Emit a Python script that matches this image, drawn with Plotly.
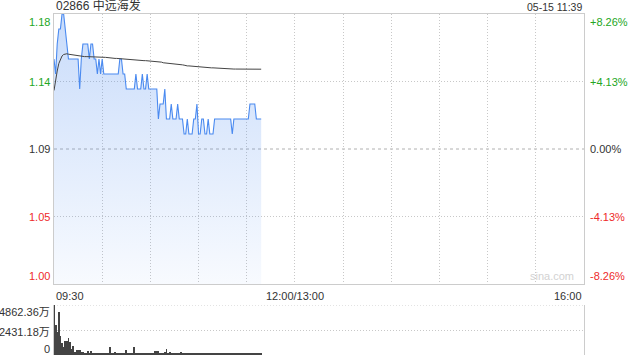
import pandas as pd
import plotly.graph_objects as go

# ---------------- data ----------------
title_text = "02866 中远海发"
stamp_text = "05-15 11:39"
prev_close = 1.09

times = list(pd.date_range("2024-05-15 09:30", periods=130, freq="min").strftime("%H:%M"))

prices = [
    1.15, 1.14, 1.16, 1.17, 1.17, 1.18, 1.18, 1.17, 1.16, 1.15,
    1.15, 1.15, 1.15, 1.15, 1.15, 1.15, 1.13, 1.15, 1.16, 1.16,
    1.16, 1.16, 1.15, 1.16, 1.16, 1.15, 1.15, 1.14, 1.15, 1.14,
    1.15, 1.14, 1.14, 1.14, 1.14, 1.14, 1.14, 1.14, 1.14, 1.14,
    1.14, 1.15, 1.15, 1.14, 1.14, 1.13, 1.13, 1.13, 1.13, 1.13,
    1.13, 1.14, 1.13, 1.13, 1.13, 1.14, 1.13, 1.13, 1.14, 1.13,
    1.13, 1.13, 1.13, 1.13, 1.13, 1.11, 1.12, 1.12, 1.12, 1.13,
    1.11, 1.11, 1.11, 1.12, 1.11, 1.11, 1.11, 1.12, 1.11, 1.11,
    1.11, 1.10, 1.10, 1.11, 1.10, 1.10, 1.10, 1.11, 1.11, 1.12,
    1.10, 1.10, 1.11, 1.11, 1.10, 1.10, 1.11, 1.10, 1.10, 1.10,
    1.11, 1.11, 1.11, 1.11, 1.11, 1.11, 1.11, 1.11, 1.11, 1.11,
    1.11, 1.10, 1.11, 1.11, 1.11, 1.11, 1.11, 1.11, 1.11, 1.11,
    1.11, 1.11, 1.12, 1.12, 1.12, 1.12, 1.11, 1.11, 1.11, 1.11,
]

avg_prices = [
    1.1290, 1.1370, 1.1420, 1.1470, 1.1500, 1.1520, 1.1530, 1.1535, 1.1535, 1.1532,
    1.1530, 1.1528, 1.1526, 1.1524, 1.1522, 1.1520, 1.1518, 1.1517, 1.1516, 1.1516,
    1.1516, 1.1516, 1.1515, 1.1515, 1.1515, 1.1515, 1.1514, 1.1514, 1.1514, 1.1513,
    1.1513, 1.1512, 1.1511, 1.1510, 1.1508, 1.1506, 1.1505, 1.1505, 1.1504, 1.1504,
    1.1503, 1.1503, 1.1502, 1.1501, 1.1500, 1.1497, 1.1495, 1.1494, 1.1493, 1.1492,
    1.1492, 1.1491, 1.1491, 1.1490, 1.1490, 1.1490, 1.1489, 1.1489, 1.1488, 1.1488,
    1.1488, 1.1487, 1.1487, 1.1486, 1.1485, 1.1484, 1.1482, 1.1479, 1.1475, 1.1474,
    1.1474, 1.1473, 1.1473, 1.1472, 1.1471, 1.1470, 1.1468, 1.1464, 1.1463, 1.1462,
    1.1461, 1.1459, 1.1455, 1.1454, 1.1454, 1.1453, 1.1452, 1.1452, 1.1451, 1.1450,
    1.1445, 1.1443, 1.1443, 1.1443, 1.1442, 1.1442, 1.1442, 1.1441, 1.1441, 1.1441,
    1.1440, 1.1440, 1.1440, 1.1439, 1.1439, 1.1438, 1.1437, 1.1435, 1.1434, 1.1434,
    1.1434, 1.1434, 1.1433, 1.1433, 1.1433, 1.1433, 1.1433, 1.1432, 1.1432, 1.1432,
    1.1432, 1.1432, 1.1433, 1.1433, 1.1433, 1.1433, 1.1433, 1.1432, 1.1432, 1.1432,
]

volumes = [  # 万股
    4862.36, 2900, 2270, 4210, 1850, 1200, 810, 1390, 1390, 1620,
    1300, 580, 875, 320, 450, 450, 450, 320, 250, 160,
    160, 400, 160, 400, 150, 120, 180, 130, 150, 200,
    120, 150, 130, 180, 130, 810, 150, 120, 250, 130,
    160, 150, 120, 130, 180, 450, 150, 130, 120, 160,
    810, 150, 120, 130, 200, 150, 120, 180, 130, 100,
    120, 150, 130, 400, 400, 380, 150, 230, 180, 260,
    550, 230, 260, 200, 230, 150, 200, 180, 150, 320,
    150, 200, 120, 180, 150, 130, 200, 120, 150, 130,
    180, 130, 220, 120, 110, 130, 100, 120, 110, 100,
    120, 100, 110, 130, 100, 110, 100, 120, 100, 110,
    100, 130, 110, 100, 120, 100, 110, 100, 120, 110,
    100, 110, 130, 100, 110, 100, 120, 100, 110, 100,
]

price_ticks = [1.00, 1.045, 1.09, 1.135, 1.18]
price_labels = ["1.00", "1.05", "1.09", "1.14", "1.18"]
pct_labels = ["-8.26%", "-4.13%", "0.00%", "+4.13%", "+8.26%"]
vol_ticks = [0, 2431.18, 4862.36]
vol_labels = ["0", "2431.18万", "4862.36万"]
grid_times = ["10:00", "10:30", "11:00", "11:30", "12:00", "13:30", "14:00", "14:30", "15:00", "15:30"]
axis_time_labels = ["09:30", "12:00/13:00", "16:00"]

# ---------------- scale helpers ----------------
def trade_minute(hhmm):
    h, m = map(int, hhmm.split(":"))
    t = h * 60 + m
    if t <= 12 * 60:
        return t - (9 * 60 + 30)
    return 150 + (t - 13 * 60)

xs = [trade_minute(t) for t in times]
grid_x = [trade_minute(t) for t in grid_times]
axis_label_x = [trade_minute("09:30"), trade_minute("12:00"), trade_minute("16:00")]
x_total = trade_minute("16:00")

FONT = "Arial, 'Liberation Sans', 'Noto Sans CJK SC', sans-serif"
GREEN = "#23a623"
RED = "#ee2a2a"
DARK = "#333333"

fig = go.Figure()

fig.add_trace(go.Scatter(
    x=xs, y=prices, mode="lines", xaxis="x", yaxis="y",
    line=dict(color="#4a8af0", width=1.1),
    fill="tozeroy",
    fillgradient=dict(type="vertical",
                      colorscale=[[0, "rgba(74,138,240,0.04)"], [1, "rgba(74,138,240,0.30)"]],
                      start=price_ticks[0], stop=price_ticks[-1]),
    hoverinfo="skip", showlegend=False,
))
fig.add_trace(go.Scatter(
    x=xs, y=avg_prices, mode="lines", xaxis="x", yaxis="y",
    line=dict(color="#444444", width=1),
    hoverinfo="skip", showlegend=False,
))
fig.add_trace(go.Bar(
    x=xs, y=volumes, xaxis="x2", yaxis="y2",
    marker=dict(color="#444444", line=dict(width=0)),
    width=0.5, hoverinfo="skip", showlegend=False,
))

main_dom = [0.2082, 1.0]
vol_dom = [0.0, 0.1466]
dotgrid = "1px,2px"

fig.update_layout(
    width=640, height=360,
    margin=dict(l=54, r=56, t=14, b=5, pad=0),
    paper_bgcolor="white", plot_bgcolor="white",
    font=dict(family=FONT, size=11, color=DARK),
    bargap=0,
    xaxis=dict(domain=[0, 1], range=[0, x_total], anchor="y",
               tickvals=grid_x, showticklabels=False, ticks="",
               showgrid=True, gridcolor="#c8c8c8", griddash=dotgrid, gridwidth=1,
               showline=True, linecolor="#cccccc", linewidth=1, mirror=True,
               zeroline=False, fixedrange=True),
    yaxis=dict(domain=main_dom, range=[price_ticks[0], price_ticks[-1]], anchor="x",
               tickvals=[price_ticks[1], price_ticks[3]], showticklabels=False, ticks="",
               showgrid=True, gridcolor="#c8c8c8", griddash=dotgrid, gridwidth=1,
               showline=True, linecolor="#cccccc", linewidth=1, mirror=True,
               zeroline=False),
    xaxis2=dict(domain=[0, 1], range=[0, x_total], anchor="y2",
                showticklabels=False, ticks="", showgrid=False,
                showline=False, zeroline=False),
    yaxis2=dict(domain=vol_dom, range=[0, vol_ticks[-1]], anchor="x2",
                tickvals=[vol_ticks[1]], showticklabels=False, ticks="",
                showgrid=True, gridcolor="#c8c8c8", griddash=dotgrid, gridwidth=1,
                showline=True, linecolor="#cccccc", linewidth=1, mirror=True,
                zeroline=False),
)

fig.add_shape(type="line", xref="x domain", yref="y", x0=0, x1=1,
              y0=prev_close, y1=prev_close,
              line=dict(color="#b0b0b0", width=1, dash="3px,3px"), layer="below")
fig.add_shape(type="line", xref="x2 domain", yref="y2", x0=0, x1=1,
              y0=vol_ticks[-1], y1=vol_ticks[-1],
              line=dict(color="#c8c8c8", width=1, dash=dotgrid), layer="below")

ann = []
ann.append(dict(text=title_text, xref="paper", yref="paper", x=0, y=1,
                xanchor="left", yanchor="bottom", showarrow=False, yshift=-1,
                font=dict(size=12, color=DARK)))
ann.append(dict(text=stamp_text, xref="paper", yref="paper", x=1, y=1,
                xanchor="right", yanchor="bottom", showarrow=False, yshift=-1,
                font=dict(size=10.5, color=DARK)))

def lab_color(i):
    if i > 2:
        return GREEN
    if i < 2:
        return RED
    return DARK

for i, (v, pl, cl) in enumerate(zip(price_ticks, price_labels, pct_labels)):
    ya = "bottom" if i == 0 else ("top" if i == len(price_ticks) - 1 else "middle")
    ann.append(dict(text=pl, xref="paper", yref="y", x=0, y=v, xanchor="right",
                    yanchor=ya, showarrow=False, xshift=-2,
                    font=dict(size=11, color=lab_color(i))))
    ann.append(dict(text=cl, xref="paper", yref="y", x=1, y=v, xanchor="left",
                    yanchor=ya, showarrow=False, xshift=4,
                    font=dict(size=11, color=lab_color(i))))

vol_shifts = [6, -2, -7]
for i, (v, vl) in enumerate(zip(vol_ticks, vol_labels)):
    ann.append(dict(text=vl, xref="paper", yref="y2", x=0, y=v, xanchor="right",
                    yanchor="middle", showarrow=False, xshift=-2, yshift=vol_shifts[i],
                    font=dict(size=11, color=DARK)))

anchors = ["left", "center", "right"]
for xv, tl, xa in zip(axis_label_x, axis_time_labels, anchors):
    ann.append(dict(text=tl, xref="x", yref="paper", x=xv, y=main_dom[0],
                    xanchor=xa, yanchor="top", showarrow=False, yshift=-4,
                    font=dict(size=11, color=DARK)))

ann.append(dict(text="sina.com", xref="paper", yref="y", x=0.9396, y=price_ticks[0],
                xanchor="center", yanchor="bottom", showarrow=False,
                font=dict(size=11, color="#d2d2d2")))

fig.update_layout(annotations=ann)

fig.write_html("out.html", config={"displayModeBar": False})
